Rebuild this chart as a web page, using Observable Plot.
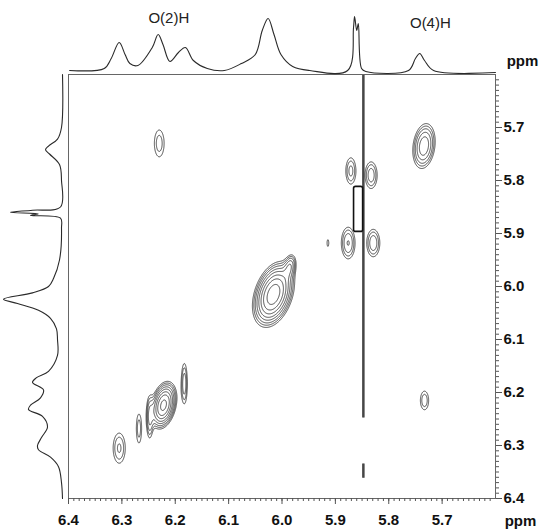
<!DOCTYPE html>
<html><head><meta charset="utf-8">
<script src="https://cdn.jsdelivr.net/npm/d3@7"></script>
<script src="https://cdn.jsdelivr.net/npm/@observablehq/plot@0.6"></script>
<style>
html,body{margin:0;padding:0;background:#fff;}
#wrap{position:relative;width:542px;height:530px;overflow:hidden;font-family:"Liberation Sans",Arial,sans-serif;}
#wrap svg{position:absolute;left:0;top:0;background:transparent;overflow:visible;}
</style></head>
<body><div id="wrap"></div>
<script>
// ---- axis ticks (ppm) ----
const majorTicks = [6.4, 6.3, 6.2, 6.1, 6.0, 5.9, 5.8, 5.7];
const yMajorTicks = [5.7, 5.8, 5.9, 6.0, 6.1, 6.2, 6.3, 6.4];
const minorTicks = d3.range(561, 641).map(d => d / 100);

// ---- top 1D projection (ppm, intensity) ----
const topPpm = [6.398,6.333,6.320,6.305,6.294,6.285,6.270,6.243,6.232,6.223,6.210,6.194,6.181,6.166,6.140,6.108,6.076,6.050,6.037,6.026,6.015,6.002,5.980,5.948,5.877,5.866,5.864,5.860,5.857,5.851,5.843,5.763,5.750,5.742,5.733,5.716,5.600];
const topInt = [0,2,12,28,16,7,5,23,36,26,9,18,23,10,2,0,7,16,40,52,36,16,4,0,0,43,54,40,47,2,-1,0,12,17,10,0,-2];

// ---- left 1D projection (ppm, intensity) ----
const leftPpm = [5.600,5.700,5.722,5.735,5.742,5.750,5.770,5.800,5.850,5.856,5.860,5.863,5.866,5.871,5.890,5.950,5.985,6.000,6.012,6.024,6.032,6.045,6.060,6.080,6.100,6.130,6.160,6.172,6.181,6.195,6.210,6.224,6.232,6.245,6.265,6.285,6.300,6.308,6.322,6.340,6.370,6.400];
const leftInt = [0,1,5,14,17,13,3,1,2,30,52,24,32,2,1,3,9,14,30,59,45,24,12,6,5,5,14,26,30,19,22,32,34,20,15,21,25,24,12,4,1,0];

// ---- 2D cross/diagonal peaks: x ppm, y ppm, amplitude, widths (ppm), tilt ----
const pkX   = [6.230, 5.734, 5.871, 5.833, 5.876, 5.829, 5.914, 6.016, 5.985, 5.733, 6.222, 6.183, 6.248, 6.268, 6.305];
const pkY   = [5.730, 5.735, 5.782, 5.790, 5.918, 5.918, 5.918, 6.015, 5.962, 6.215, 6.224, 6.183, 6.248, 6.268, 6.305];
const pkA   = [1.6, 4.2, 2.0, 2.2, 2.5, 2.3, 1.15, 10, 2.6, 1.7, 9, 2.2, 2.2, 1.6, 1.9];
const pkWx  = [0.0094,0.0124,0.0080,0.0090,0.0095,0.0095,0.0030,0.0184,0.0070,0.0075,0.0120,0.0045,0.0045,0.0050,0.0100];
const pkWy  = [0.0260,0.0250,0.0210,0.0200,0.0220,0.0200,0.0120,0.0290,0.0140,0.0170,0.0215,0.0300,0.0290,0.0280,0.0250];
const pkRho = [0, 0.2, 0, 0, 0, 0, 0, 0.35, 0.3, 0, 0.3, 0, 0, 0, 0];
const levels = [1, 1.35, 1.8, 2.45, 3.3, 4.5, 6, 8.1];

// ---- t1-noise streak and artefact box (ppm) ----
const streakX = [5.8465, 5.8485];
const streakY1 = [5.600, 6.335];
const streakY2 = [6.248, 6.362];
const boxX1 = [5.865], boxX2 = [5.848], boxY1 = [5.812], boxY2 = [5.897];

// ---- labels ----
const peakLabels = ["O(2)H", "O(4)H"];
const peakLabelPpm = [6.212, 5.722];
const peakLabelInt = [60, 55];

const W = 542, H = 530, ML = 68, MR = 47, MT = 74, MB = 32;
const xDomain = [6.4, 5.6], yDomain = [6.4, 5.6];
const ink = "#2a2a2a";
const FF = "Liberation Sans, Arial, sans-serif";
const tickFont = {fontSize: 15, fontWeight: "bold", fill: "#111", fontFamily: FF};

const field = (x, y) => {
  let s = 0;
  for (let i = 0; i < pkX.length; i++) {
    const u = (x - pkX[i]) / pkWx[i], v = (y - pkY[i]) / pkWy[i], r = pkRho[i];
    s += pkA[i] * Math.exp(-(u*u - 2*r*u*v + v*v) / (2 * (1 - r*r)));
  }
  return s;
};

const streak = streakX.flatMap(x => streakY1.map((y1, j) => ({x, y1, y2: streakY2[j]})));
const box = boxX1.map((x1, i) => ({x1, x2: boxX2[i], y1: boxY1[i], y2: boxY2[i]}));

const mainPlot = Plot.plot({
  width: W, height: H,
  marginLeft: ML, marginRight: MR, marginTop: MT, marginBottom: MB,
  style: {background: "transparent", overflow: "visible", fontFamily: FF},
  x: {domain: xDomain},
  y: {domain: yDomain},
  marks: [
    Plot.contour({value: field, x1: 6.4, x2: 5.6, y1: 5.6, y2: 6.4, pixelSize: 0.5,
      thresholds: levels, fill: "none", stroke: ink, strokeWidth: 0.85}),
    Plot.ruleX(streak, {x: "x", y1: "y1", y2: "y2", stroke: "#111", strokeWidth: 1.1}),
    Plot.rect(box, {x1: "x1", x2: "x2", y1: "y1", y2: "y2", fill: "none", stroke: "#111", strokeWidth: 1.6, rx: 2}),
    Plot.frame({stroke: "#666", strokeWidth: 1}),
    Plot.axisX(minorTicks, {anchor: "bottom", tickSize: 3, text: null, stroke: "#555"}),
    Plot.axisX(majorTicks, {anchor: "bottom", tickSize: 6, tickPadding: 10, stroke: "#555",
      tickFormat: d => d.toFixed(1), ...tickFont}),
    Plot.axisY(minorTicks, {anchor: "right", tickSize: 3, text: null, stroke: "#555"}),
    Plot.axisY(yMajorTicks, {anchor: "right", tickSize: 6, tickPadding: 2, stroke: "#555",
      tickFormat: d => d.toFixed(1), ...tickFont}),
    Plot.text(["ppm"], {frameAnchor: "bottom-right", textAnchor: "middle", lineAnchor: "middle", dx: 25, dy: 23, ...tickFont}),
    Plot.text(["ppm"], {frameAnchor: "top-right", textAnchor: "middle", lineAnchor: "middle", dx: 27, dy: -13, ...tickFont})
  ]
});

const topData = topPpm.map((p, i) => ({p, v: topInt[i]}));
const topPlot = Plot.plot({
  width: W, height: MT,
  marginLeft: ML, marginRight: MR, marginTop: 10, marginBottom: 4,
  style: {background: "transparent", overflow: "visible", fontFamily: FF},
  x: {domain: xDomain, axis: null},
  y: {domain: [0, 60], axis: null},
  marks: [
    Plot.line(topData, {x: "p", y: "v", curve: "catmull-rom", stroke: ink, strokeWidth: 1.1}),
    Plot.text(peakLabels, {x: (d, i) => peakLabelPpm[i], y: (d, i) => peakLabelInt[i], dy: 8,
      fontSize: 15, fill: "#222", fontFamily: FF})
  ]
});

const leftData = leftPpm.map((p, i) => ({p, v: leftInt[i]}));
const leftPlot = Plot.plot({
  width: ML, height: H,
  marginLeft: 2, marginRight: 6, marginTop: MT, marginBottom: MB,
  style: {background: "transparent", overflow: "visible", fontFamily: FF},
  x: {domain: [0, 60], reverse: true, axis: null},
  y: {domain: yDomain, axis: null},
  marks: [
    Plot.line(leftData, {x: "v", y: "p", curve: "catmull-rom", stroke: ink, strokeWidth: 1.1})
  ]
});

const wrap = document.getElementById("wrap");
wrap.append(mainPlot, topPlot, leftPlot);
</script></body></html>
